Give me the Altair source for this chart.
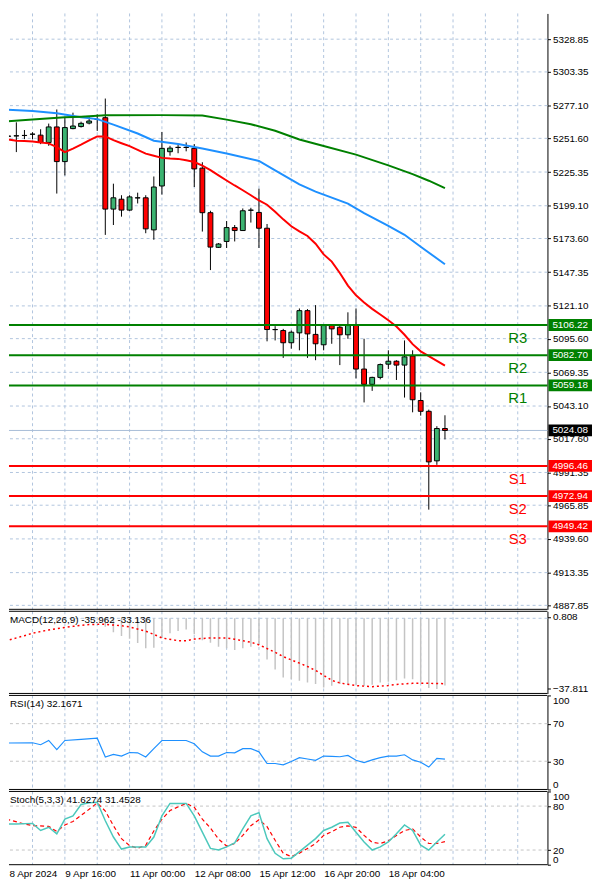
import altair as alt
import pandas as pd

# ---------------- data ----------------
opens = [5254.3, 5253.2, 5253.5, 5253.8, 5254.8, 5254.1, 5248.4, 5260.5, 5233.5, 5259.2,
         5260.8, 5263.5, 5266.3, 5267.7, 5196.5, 5204.2, 5195.7, 5205.2, 5205.3, 5180.3,
         5214.5, 5241.2, 5244.5, 5244.5, 5243.8, 5228.4, 5193.7, 5166.7, 5171.3, 5182.1,
         5179.8, 5195.6, 5193.9, 5181.6, 5102.6, 5101.9, 5092.4, 5100.1, 5117.4, 5098.9,
         5090.8, 5105.8, 5104.5, 5098.6, 5106.3, 5071.9, 5060.0, 5065.4, 5075.7, 5078.0,
         5075.0, 5082.1, 5047.4, 5039.0, 5000.4, 5025.6]
highs = [5258.7, 5268.2, 5264.1, 5258.1, 5256.4, 5258.7, 5263.1, 5274.1, 5267.7, 5271.6,
         5264.6, 5268.2, 5270.3, 5282.6, 5216.3, 5207.3, 5207.3, 5209.3, 5207.3, 5221.9,
         5256.6, 5245.8, 5246.6, 5248.4, 5247.1, 5233.0, 5195.2, 5170.0, 5187.2, 5184.1,
         5197.0, 5197.5, 5212.4, 5184.9, 5105.3, 5103.2, 5101.9, 5119.1, 5118.6, 5121.7,
         5106.3, 5106.3, 5105.8, 5116.1, 5119.1, 5095.5, 5065.9, 5076.2, 5086.5, 5078.8,
         5094.2, 5086.5, 5053.8, 5040.3, 5027.4, 5035.9]
lows = [5248.4, 5243.3, 5240.9, 5251.0, 5251.0, 5247.1, 5245.8, 5208.6, 5222.7, 5258.7,
        5260.0, 5262.5, 5257.4, 5176.4, 5184.1, 5190.6, 5195.2, 5200.9, 5177.7, 5172.6,
        5207.8, 5238.1, 5240.0, 5241.5, 5213.7, 5179.0, 5149.0, 5166.2, 5166.2, 5171.3,
        5179.5, 5186.0, 5166.2, 5093.5, 5094.2, 5080.6, 5087.8, 5086.5, 5080.6, 5078.8,
        5086.5, 5091.6, 5075.0, 5095.5, 5064.6, 5045.9, 5054.9, 5063.9, 5071.9, 5063.4,
        5049.7, 5038.2, 5035.6, 4962.4, 4997.3, 5017.1]
closes = [5251.7, 5253.4, 5253.6, 5253.9, 5254.9, 5248.4, 5260.5, 5233.5, 5260.0, 5261.2,
          5263.3, 5265.1, 5266.4, 5196.5, 5205.3, 5195.7, 5206.0, 5205.3, 5181.1, 5213.7,
          5243.8, 5244.0, 5244.6, 5244.6, 5227.8, 5193.7, 5166.9, 5169.3, 5182.1, 5179.8,
          5195.2, 5195.7, 5181.6, 5102.7, 5102.7, 5092.4, 5100.6, 5117.4, 5099.3, 5091.6,
          5105.8, 5103.2, 5098.6, 5105.8, 5071.9, 5060.0, 5065.4, 5075.4, 5078.0, 5075.0,
          5081.4, 5048.0, 5039.0, 4999.6, 5025.6, 5024.08]

ma_fast = [5251.6, 5250.7, 5249.7, 5249.6, 5249.1, 5248.4, 5247.7, 5244.8, 5240.9, 5243.6,
           5246.7, 5250.0, 5253.1, 5253.1, 5250.2, 5247.8, 5245.5, 5242.7, 5239.7, 5238.0,
           5236.4, 5235.9, 5235.6, 5234.5, 5233.2, 5230.4, 5226.9, 5222.8, 5218.8, 5214.9,
           5211.2, 5207.3, 5203.2, 5199.9, 5194.4, 5188.5, 5183.1, 5179.1, 5175.6, 5169.5,
           5161.2, 5155.6, 5146.7, 5136.9, 5129.3, 5123.8, 5118.8, 5114.4, 5109.9, 5105.0,
           5098.6, 5091.3, 5085.7, 5082.0, 5078.3, 5074.6]
ma_mid_idx = [0, 4, 7, 10, 12, 14, 17, 19, 22, 25, 28, 32, 34, 37, 39, 43, 45, 48, 50, 52, 55]
ma_mid = [5274.1, 5272.9, 5271.1, 5268.1, 5266.6, 5262.3, 5255.4, 5249.8, 5247.2, 5243.7, 5239.8,
          5234.0, 5226.7, 5215.7, 5210.1, 5200.8, 5193.3, 5183.5, 5176.5, 5167.2, 5153.5]
ma_slow_idx = [0, 4, 8, 10, 13, 20, 25, 28, 31, 34, 37, 40, 44, 48, 51, 53, 55]
ma_slow = [5264.6, 5266.3, 5268.0, 5268.5, 5269.6, 5269.7, 5269.4, 5266.2, 5262.6, 5257.5,
           5250.7, 5245.6, 5238.9, 5230.6, 5223.7, 5218.6, 5212.9]

price_ticks = [5328.85, 5303.35, 5277.10, 5251.60, 5225.35, 5199.10, 5173.60, 5147.35, 5121.10,
               5095.60, 5069.35, 5043.10, 5017.60, 4991.35, 4965.85, 4939.60, 4913.35, 4887.85]
level_names = ["R3", "R2", "R1", "S1", "S2", "S3"]
level_values = [5106.22, 5082.70, 5059.18, 4996.46, 4972.94, 4949.42]
current_price = 5024.08

macd_hist = [-0.5, -0.4, -0.3, -0.2, -0.1, -0.3, 0.2, -1.8, -0.9, -0.5, -0.2, 0.1, 0.4,
             -4.5, -7.5, -9.5, -11.0, -13.2, -16.0, -15.7, -10.5, -8.0, -6.8, -6.0, -8.5,
             -11.7, -13.1, -15.2, -16.0, -16.9, -16.0, -15.2, -14.3, -22.1, -27.4, -31.7,
             -32.6, -33.4, -34.3, -35.2, -37.0, -36.1, -35.2, -35.5, -35.5, -36.1, -35.5,
             -34.3, -34.0, -33.1, -32.2, -32.6, -34.3, -37.3, -37.811, -35.962]
macd_sig_idx = [0, 1, 3, 4, 6, 8, 9, 11, 13, 15, 16, 18, 19, 20, 22, 23, 24, 26, 28, 29, 31, 32,
                34, 35, 37, 38, 39, 41, 42, 44, 46, 48, 49, 51, 53, 55]
macd_sig = [-12.8, -11.7, -9.3, -8.0, -6.2, -4.9, -4.3, -3.3, -3.2, -4.0, -4.6, -6.9, -8.6,
            -10.5, -12.0, -12.0, -11.1, -10.5, -10.5, -11.2, -12.8, -14.2, -18.2, -20.5,
            -24.0, -25.8, -27.9, -33.2, -34.6, -36.0, -36.6, -36.0, -35.4, -34.8, -34.8, -35.0]
macd_ticks = [0.808, -37.811]

rsi_idx = [0, 4, 5, 6, 7, 8, 10, 12, 13, 14, 15, 16, 17, 18, 19, 20] + list(range(23, 56))
rsi_vals = [49.3, 49.7, 47.6, 52.1, 42.4, 52.1, 53.3, 54.5, 34.5, 37.2, 35.5, 39.3, 39.0, 34.5,
            43.4, 52.1, 52.1, 48.6, 40.0, 35.5, 35.5, 39.3, 39.0, 43.4, 43.4, 40.0, 27.6, 27.6,
            26.2, 29.7, 33.8, 32.4, 31.0, 35.5, 35.2, 34.8, 36.2, 31.0, 28.6, 31.4, 33.8, 35.5,
            35.5, 36.9, 31.4, 29.0, 23.8, 33.1, 32.2]
rsi_ticks = [0, 30, 70, 100]

stoch_k_idx = [0, 1, 2] + list(range(4, 56))
stoch_k = [60, 55.6, 55.6, 56.4, 46.7, 51.1, 42.2, 62.2, 66.7, 82.2, 84.4, 85.3, 60, 37.8, 21.3,
           24, 24, 24, 37.8, 66.7, 83.6, 83.6, 83.6, 66.7, 44.4, 22.2, 20, 24.4, 29.8, 48.9,
           66.7, 71.1, 35.6, 15.6, 8, 8.9, 17.8, 26.7, 35.6, 46.7, 51.1, 56.9, 57.8, 44.4, 31.1,
           20, 24.4, 31.1, 42.2, 54.2, 46.7, 26.7, 20, 31.1, 41.6]
stoch_d_idx = [0, 1, 3, 4, 6, 7, 8, 9, 11, 12] + list(range(13, 22)) + list(range(23, 56))
stoch_d = [66.7, 61.5, 55.6, 53.3, 52.4, 45.3, 54.2, 59.0, 75.6, 84.4,
           73.3, 53.3, 35.6, 26.0, 22.5, 26.5, 46.0, 62.0, 74.0,
           83.6, 78.5, 62.2, 50.0, 35.0, 25.5, 28.9, 40.0, 53.3, 61.3, 52.0, 33.3, 15.6, 11.1,
           15.6, 22.2, 28.9, 40.0, 45.0, 51.1, 53.0, 51.0, 40.0, 30.5, 28.9, 32.5, 40.0, 46.7,
           48.9, 37.8, 28.9, 28.9, 31.5]
stoch_ticks = [0, 20, 80, 100]

grid_idx = list(range(4, 68, 4))
date_idx = [0, 8, 16, 24, 32, 40, 48]
date_labels = ["8 Apr 2024", "9 Apr 16:00", "11 Apr 00:00", "12 Apr 08:00",
               "15 Apr 12:00", "16 Apr 20:00", "18 Apr 04:00"]

macd_title = "MACD(12,26,9) -35.962 -33.136"
rsi_title = "RSI(14) 32.1671"
stoch_title = "Stoch(5,3,3) 41.6274 31.4528"

# ---------------- styling / layout ----------------
FONT = "Liberation Sans"
GRID = "#b0c4de"
HGRID = "#c4c4c4"
GREEN = "#008000"
RED = "#ff0000"
W = 544
X_DOMAIN = [1.089, 67.675]
xs = alt.Scale(domain=X_DOMAIN, nice=False, zero=False)


def xenc(field="i", axis=None):
    return alt.X(f"{field}:Q", scale=xs, axis=axis)


def raxis(values, fmt, flush=False):
    return alt.Axis(orient="right", values=values, format=fmt, title=None, grid=False,
                    tickSize=3, labelPadding=2, domainColor="black", tickColor="black",
                    labelColor="black", labelFontSize=10, labelFont=FONT,
                    labelFlush=flush, labelOverlap=False)


def one():
    return alt.Chart(pd.DataFrame({"k": [0]}))


def hline_px(y):
    return one().mark_rule(color="black", strokeWidth=1).encode(
        x=alt.value(0), x2=alt.value(W), y=alt.value(y))


def vgrid(axis=None):
    return alt.Chart(pd.DataFrame({"i": grid_idx})).mark_rule(
        color=GRID, strokeDash=[3, 3], strokeWidth=1).encode(x=xenc("i", axis))


def panel_title(txt):
    return one().mark_text(align="left", baseline="middle", font=FONT, fontSize=10,
                           color="black").encode(
        x=alt.value(1), y=alt.value(9), text=alt.value(txt))


def panel(layers, h):
    return alt.layer(*layers).resolve_axis(x="independent", y="independent").properties(
        width=W, height=h)


# ---------------- main price panel ----------------
H0 = 602
ys0 = alt.Scale(domain=[4884.76, 5348.90], nice=False, zero=False)


def y0(field):
    return alt.Y(f"{field}:Q", scale=ys0, axis=None)


cdf = pd.DataFrame({"i": list(range(len(opens))), "o": opens, "h": highs, "l": lows, "c": closes})
cdf["col"] = ["#3cb371" if c >= o else RED for o, c in zip(opens, closes)]

hgrid0 = alt.Chart(pd.DataFrame({"p": price_ticks})).mark_rule(
    color=GRID, strokeDash=[3, 3], strokeWidth=1).encode(
    y=alt.Y("p:Q", scale=ys0, axis=raxis(price_ticks, ".2f")))
cur_line = alt.Chart(pd.DataFrame({"p": [current_price]})).mark_rule(
    color="#a8bcd8", strokeWidth=1).encode(y=y0("p"))

wicks = alt.Chart(cdf).mark_rule(color="black", strokeWidth=1, clip=True).encode(
    x=xenc(), y=y0("l"), y2="h:Q")
bodies = alt.Chart(cdf).transform_calculate(
    xl="datum.i - 0.3", xr="datum.i + 0.3").mark_rect(
    stroke="black", strokeWidth=1, clip=True).encode(
    x=alt.X("xl:Q", scale=xs, axis=None), x2="xr:Q",
    y=y0("o"), y2="c:Q", fill=alt.Fill("col:N", scale=None))


def ma_line(idx, vals, color):
    return alt.Chart(pd.DataFrame({"i": idx, "v": vals})).mark_line(
        color=color, strokeWidth=2, clip=True).encode(x=xenc(), y=y0("v"))


lv = pd.DataFrame({"name": level_names, "p": level_values})
lv["col"] = [GREEN if n.startswith("R") else RED for n in level_names]
lvl_rules = alt.Chart(lv).mark_rule(strokeWidth=2).encode(
    y=y0("p"), color=alt.Color("col:N", scale=None))
lvl_text = alt.Chart(lv).mark_text(font=FONT, fontSize=15, dy=13, baseline="middle").encode(
    x=alt.value(514), y=y0("p"), text="name:N", color=alt.Color("col:N", scale=None))

tags = pd.DataFrame({"p": level_values + [current_price]})
tags["col"] = list(lv["col"]) + ["#000000"]
tag_base = alt.Chart(tags).transform_calculate(
    t="format(datum.p, '.2f')", top="datum.p + 4.6", bot="datum.p - 4.6")
tag_rect = tag_base.mark_rect().encode(
    x=alt.value(545), x2=alt.value(589), y=y0("top"), y2="bot:Q",
    fill=alt.Fill("col:N", scale=None))
tag_text = tag_base.mark_text(color="white", font=FONT, fontSize=10, baseline="middle").encode(
    x=alt.value(567), y=y0("p"), text="t:N")

main = panel([
    vgrid(), hgrid0, cur_line, wicks, bodies,
    ma_line(list(range(len(ma_fast))), ma_fast, RED),
    ma_line(ma_mid_idx, ma_mid, "#1e90ff"),
    ma_line(ma_slow_idx, ma_slow, GREEN),
    lvl_rules, lvl_text, tag_rect, tag_text, hline_px(H0)], H0)

# ---------------- MACD panel ----------------
H1 = 83
ys1 = alt.Scale(domain=[-40.224, 3.754], nice=False, zero=False)
mdf = pd.DataFrame({"i": list(range(len(macd_hist))), "v": macd_hist})
hist = alt.Chart(mdf).transform_calculate(z="0").mark_rule(
    color="#c4c4c4", strokeWidth=1.5, clip=True).encode(
    x=xenc(), y=alt.Y("v:Q", scale=ys1, axis=raxis(macd_ticks, ".3f")), y2="z:Q")
zero1 = alt.Chart(pd.DataFrame({"v": [0]})).mark_rule(
    color=GRID, strokeDash=[3, 3]).encode(y=alt.Y("v:Q", scale=ys1, axis=None))
sig1 = alt.Chart(pd.DataFrame({"i": macd_sig_idx, "v": macd_sig})).mark_line(
    color=RED, strokeWidth=1.5, strokeDash=[2, 3], clip=True).encode(
    x=xenc(), y=alt.Y("v:Q", scale=ys1, axis=None))
macd = panel([vgrid(), zero1, hist, sig1, panel_title(macd_title),
              hline_px(0), hline_px(H1)], H1)

# ---------------- RSI panel ----------------
H2 = 95
ys2 = alt.Scale(domain=[0, 100], nice=False, zero=False)
hgrid2 = alt.Chart(pd.DataFrame({"v": rsi_ticks[1:3]})).mark_rule(
    color=HGRID, strokeDash=[3, 3]).encode(
    y=alt.Y("v:Q", scale=ys2, axis=raxis(rsi_ticks, "d", flush=True)))
rsi_line = alt.Chart(pd.DataFrame({"i": rsi_idx, "v": rsi_vals})).mark_line(
    color="#1e90ff", strokeWidth=1.2, clip=True).encode(
    x=xenc(), y=alt.Y("v:Q", scale=ys2, axis=None))
rsi = panel([vgrid(), hgrid2, rsi_line, panel_title(rsi_title),
             hline_px(0), hline_px(H2)], H2)

# ---------------- Stochastic panel ----------------
H3 = 74
ys3 = alt.Scale(domain=[0, 100], nice=False, zero=False)
lab_pos = [max(d, X_DOMAIN[0] + 0.01) for d in date_idx]
expr = "''"
for pos, lab in sorted(zip(lab_pos, date_labels), reverse=True):
    expr = f"(abs(datum.value - {pos}) < 0.5 ? '{lab}' : {expr})"
date_axis = alt.Axis(orient="bottom", values=lab_pos, labelExpr=expr, ticks=False,
                     domain=False, grid=False, title=None, labelAlign="left",
                     labelBaseline="top", labelPadding=4, labelFontSize=10,
                     labelFont=FONT, labelColor="black", labelFlush=False,
                     labelOverlap=False, labelBound=False)
hgrid3 = alt.Chart(pd.DataFrame({"v": stoch_ticks[1:3]})).mark_rule(
    color=HGRID, strokeDash=[3, 3]).encode(
    y=alt.Y("v:Q", scale=ys3, axis=raxis(stoch_ticks, "d", flush=True)))
k_line = alt.Chart(pd.DataFrame({"i": stoch_k_idx, "v": stoch_k})).mark_line(
    color="#4cc8bc", strokeWidth=1.5, clip=True).encode(
    x=xenc(), y=alt.Y("v:Q", scale=ys3, axis=None))
d_line = alt.Chart(pd.DataFrame({"i": stoch_d_idx, "v": stoch_d})).mark_line(
    color=RED, strokeWidth=1.2, strokeDash=[4, 3], clip=True).encode(
    x=xenc(), y=alt.Y("v:Q", scale=ys3, axis=None))
stoch = panel([vgrid(date_axis), hgrid3, d_line, k_line, panel_title(stoch_title),
               hline_px(0), hline_px(H3)], H3)

chart = alt.VConcatChart(
    vconcat=[main, macd, rsi, stoch], spacing=2, bounds="flush"
).properties(padding=0).configure_view(stroke=None).configure_text(font=FONT)

chart.save("out.html", embed_options={"renderer": "svg", "actions": False})
